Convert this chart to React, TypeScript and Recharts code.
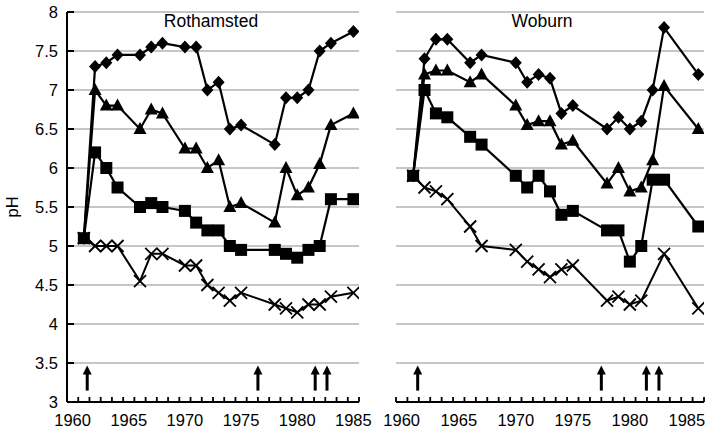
import React from 'react';
import { ComposedChart, Line, Scatter, XAxis, YAxis, CartesianGrid } from 'recharts';

// ---------- Data ----------
const rothYears = [1961, 1962, 1963, 1964, 1966, 1967, 1968, 1970, 1971, 1972, 1973, 1974, 1975, 1978, 1979, 1980, 1981, 1982, 1983, 1985];
const rothDiamond = [5.1, 7.3, 7.35, 7.45, 7.45, 7.55, 7.6, 7.55, 7.55, 7.0, 7.1, 6.5, 6.55, 6.3, 6.9, 6.9, 7.0, 7.5, 7.6, 7.75];
const rothTriangle = [5.1, 7.0, 6.8, 6.8, 6.5, 6.75, 6.7, 6.25, 6.25, 6.0, 6.1, 5.5, 5.55, 5.3, 6.0, 5.65, 5.75, 6.05, 6.55, 6.7];
const rothSquare = [5.1, 6.2, 6.0, 5.75, 5.5, 5.55, 5.5, 5.45, 5.3, 5.2, 5.2, 5.0, 4.95, 4.95, 4.9, 4.85, 4.95, 5.0, 5.6, 5.6];
const rothCross = [5.1, 5.0, 5.0, 5.0, 4.55, 4.9, 4.9, 4.75, 4.75, 4.5, 4.4, 4.3, 4.4, 4.25, 4.2, 4.15, 4.25, 4.25, 4.35, 4.4];
const rothArrows = [1961.3, 1976.5, 1981.6, 1982.65];

const wobYears = [1961, 1962, 1963, 1964, 1966, 1967, 1970, 1971, 1972, 1973, 1974, 1975, 1978, 1979, 1980, 1981, 1982, 1983, 1986];
const wobDiamond = [5.9, 7.4, 7.65, 7.65, 7.35, 7.45, 7.35, 7.1, 7.2, 7.15, 6.7, 6.8, 6.5, 6.65, 6.5, 6.6, 7.0, 7.8, 7.2];
const wobTriangle = [5.9, 7.2, 7.25, 7.25, 7.1, 7.2, 6.8, 6.55, 6.6, 6.6, 6.3, 6.35, 5.8, 6.0, 5.7, 5.75, 6.1, 7.05, 6.5];
const wobSquare = [5.9, 7.0, 6.7, 6.65, 6.4, 6.3, 5.9, 5.75, 5.9, 5.7, 5.4, 5.45, 5.2, 5.2, 4.8, 5.0, 5.85, 5.85, 5.25];
const wobCross = [5.9, 5.75, 5.7, 5.6, 5.25, 5.0, 4.95, 4.8, 4.7, 4.6, 4.7, 4.75, 4.3, 4.35, 4.25, 4.3, null, 4.9, 4.2];
const wobArrows = [1961.4, 1977.5, 1981.45, 1982.55];

const arrowLevel = 3.3;
const yTicks = [3, 3.5, 4, 4.5, 5, 5.5, 6, 6.5, 7, 7.5, 8];
const labelYears = [1960, 1965, 1970, 1975, 1980, 1985];
const rothTitle = 'Rothamsted';
const wobTitle = 'Woburn';
const yLabel = 'pH';

// ---------- Helpers ----------
const FONT = '"Liberation Sans", Arial, Helvetica, sans-serif';

type Row = { year: number; diamond: number | null; triangle: number | null; square: number | null; cross: number | null };

function buildRows(years: number[], d: (number | null)[], t: (number | null)[], s: (number | null)[], c: (number | null)[]): Row[] {
  return years.map((year, i) => ({ year, diamond: d[i], triangle: t[i], square: s[i], cross: c[i] }));
}

function xTicksFor(start: number, end: number): number[] {
  const out: number[] = [];
  for (let v = start; v <= end + 1e-9; v += 1) out.push(v);
  return [...out, ...labelYears].sort((a, b) => a - b);
}

const rothRows = buildRows(rothYears, rothDiamond, rothTriangle, rothSquare, rothCross);
const wobRows = buildRows(wobYears, wobDiamond, wobTriangle, wobSquare, wobCross);
const rothArrowRows = rothArrows.map((year) => ({ year, pH: arrowLevel }));
const wobArrowRows = wobArrows.map((year) => ({ year, pH: arrowLevel }));

// ---------- Marker shapes ----------
const DiamondDot = (p: any) => {
  const { cx, cy, index } = p;
  if (cx == null || cy == null || p.value == null) return <g key={`dd-${index}`} />;
  return (
    <polygon key={`dd-${index}`} points={`${cx},${cy - 6.5} ${cx + 6},${cy} ${cx},${cy + 6.5} ${cx - 6},${cy}`} fill="#000" />
  );
};
const TriangleDot = (p: any) => {
  const { cx, cy, index } = p;
  if (cx == null || cy == null || p.value == null) return <g key={`td-${index}`} />;
  return <polygon key={`td-${index}`} points={`${cx},${cy - 7} ${cx + 6.5},${cy + 5} ${cx - 6.5},${cy + 5}`} fill="#000" />;
};
const SquareDot = (p: any) => {
  const { cx, cy, index } = p;
  if (cx == null || cy == null || p.value == null) return <g key={`sd-${index}`} />;
  return <rect key={`sd-${index}`} x={cx - 6} y={cy - 6} width={12} height={12} fill="#000" />;
};
const CrossDot = (p: any) => {
  const { cx, cy, index } = p;
  if (cx == null || cy == null || p.value == null) return <g key={`cd-${index}`} />;
  return (
    <g key={`cd-${index}`}>
      <line x1={cx - 6} y1={cy - 6} x2={cx + 6} y2={cy + 6} stroke="#000" strokeWidth={1.8} />
      <line x1={cx - 6} y1={cy + 6} x2={cx + 6} y2={cy - 6} stroke="#000" strokeWidth={1.8} />
    </g>
  );
};
const ArrowShape = (p: any) => {
  const { cx, cy } = p;
  if (cx == null || cy == null) return <g />;
  return (
    <g>
      <rect x={cx - 1.5} y={cy - 6} width={3} height={18} fill="#000" />
      <polygon points={`${cx},${cy - 13} ${cx + 4.5},${cy - 4} ${cx - 4.5},${cy - 4}`} fill="#000" />
    </g>
  );
};

// ---------- Ticks ----------
const XTick = (props: any) => {
  const { x, y, payload } = props;
  const v = payload.value;
  if (Number.isInteger(v)) {
    return (
      <text x={x} y={y + 23.5} textAnchor="middle" fontSize={16.5} fontFamily={FONT} fill="#000">
        {v}
      </text>
    );
  }
  return <line x1={x} x2={x} y1={y} y2={y - 5} stroke="#000" strokeWidth={1.8} />;
};

const YTick = (props: any) => {
  const { x, y, payload } = props;
  return (
    <g>
      <line x1={x} x2={x + 7} y1={y} y2={y} stroke="#000" strokeWidth={2} />
      <text x={x - 9} y={y} dy="0.36em" textAnchor="end" fontSize={16.5} fontFamily={FONT} fill="#000">
        {payload.value}
      </text>
    </g>
  );
};

const seriesLines = (
  keyPrefix: string
) => [
  <Line key={`${keyPrefix}-c`} type="linear" dataKey="cross" stroke="#000" strokeWidth={2} dot={CrossDot} activeDot={false} isAnimationActive={false} connectNulls />,
  <Line key={`${keyPrefix}-d`} type="linear" dataKey="diamond" stroke="#000" strokeWidth={2.2} dot={DiamondDot} activeDot={false} isAnimationActive={false} connectNulls />,
  <Line key={`${keyPrefix}-t`} type="linear" dataKey="triangle" stroke="#000" strokeWidth={2.2} dot={TriangleDot} activeDot={false} isAnimationActive={false} connectNulls />,
  <Line key={`${keyPrefix}-s`} type="linear" dataKey="square" stroke="#000" strokeWidth={2.2} dot={SquareDot} activeDot={false} isAnimationActive={false} connectNulls />,
];

export default function App() {
  const rothTicks = xTicksFor(1959.5, 1985.5);
  const wobTicks = xTicksFor(1959.5, 1986.5);
  return (
    <div style={{ position: 'absolute', left: 0, top: 0, width: 709, height: 429, background: '#fff', fontFamily: FONT }}>
      <div style={{ position: 'absolute', left: 0, top: 0 }}>
        <ComposedChart width={380} height={429} data={rothRows} margin={{ top: 12, right: 21, bottom: 0, left: 0 }} style={{ overflow: 'visible' }}>
          <CartesianGrid horizontal vertical={false} stroke="#b3b3b3" strokeWidth={1.5} />
          <XAxis
            type="number"
            dataKey="year"
            domain={[1959.5, 1985.5]}
            ticks={rothTicks}
            interval={0}
            allowDataOverflow
            tickSize={0}
            tickMargin={0}
            tickLine={false}
            tick={XTick}
            height={27}
            axisLine={{ stroke: '#000', strokeWidth: 2 }}
          />
          <YAxis
            type="number"
            domain={[3, 8]}
            ticks={yTicks}
            interval={0}
            allowDataOverflow
            tickSize={0}
            tickMargin={0}
            tickLine={false}
            tick={YTick}
            width={67}
            axisLine={{ stroke: '#000', strokeWidth: 2 }}
            label={{
              value: yLabel,
              content: (lp: any) => {
                const vb = lp.viewBox || {};
                const cx = 12;
                const cy = (vb.y ?? 12) + (vb.height ?? 390) / 2;
                return (
                  <text x={cx} y={cy} transform={`rotate(-90, ${cx}, ${cy})`} textAnchor="middle" dominantBaseline="central" fontSize={16.5} fontFamily={FONT} fill="#000">
                    {yLabel}
                  </text>
                );
              },
            }}
          />
          {seriesLines('r')}
          <Scatter data={rothArrowRows} dataKey="pH" shape={ArrowShape} isAnimationActive={false} />
        </ComposedChart>
      </div>
      <div style={{ position: 'absolute', left: 380, top: 0 }}>
        <ComposedChart width={329} height={429} data={wobRows} margin={{ top: 12, right: 5, bottom: 0, left: 16 }} style={{ overflow: 'visible' }}>
          <CartesianGrid horizontal vertical={false} stroke="#b3b3b3" strokeWidth={1.5} />
          <XAxis
            type="number"
            dataKey="year"
            domain={[1959.5, 1986.5]}
            ticks={wobTicks}
            interval={0}
            allowDataOverflow
            tickSize={0}
            tickMargin={0}
            tickLine={false}
            tick={XTick}
            height={27}
            axisLine={{ stroke: '#000', strokeWidth: 2 }}
          />
          <YAxis type="number" domain={[3, 8]} ticks={yTicks} interval={0} allowDataOverflow hide />
          {seriesLines('w')}
          <Scatter data={wobArrowRows} dataKey="pH" shape={ArrowShape} isAnimationActive={false} />
        </ComposedChart>
      </div>
      <div style={{ position: 'absolute', left: 131, top: 13, width: 160, textAlign: 'center', fontSize: 17.5, lineHeight: '17.5px', color: '#000' }}>
        {rothTitle}
      </div>
      <div style={{ position: 'absolute', left: 462, top: 13, width: 160, textAlign: 'center', fontSize: 17.5, lineHeight: '17.5px', color: '#000' }}>
        {wobTitle}
      </div>
    </div>
  );
}
